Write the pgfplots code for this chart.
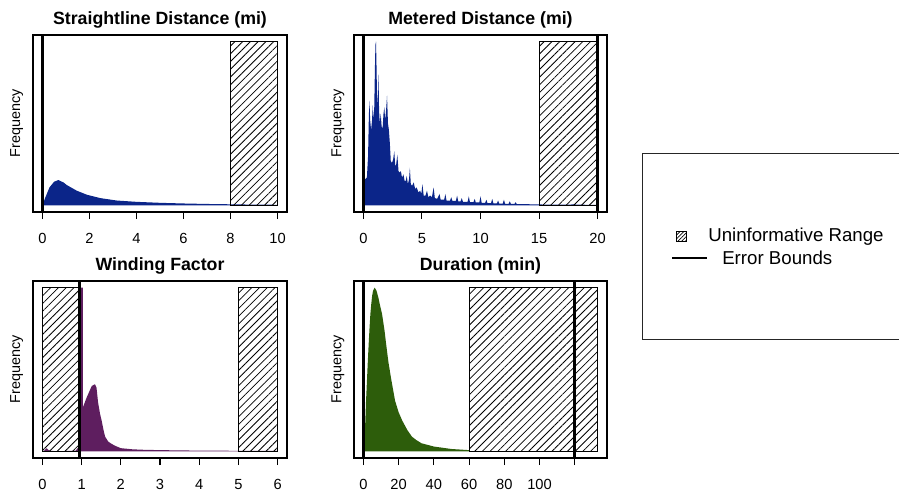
\documentclass[border=0pt]{standalone}
\usepackage{fontspec}
\setmainfont{Liberation Sans}
\usepackage{pgfplots}
\pgfplotsset{compat=1.18}
\usetikzlibrary{patterns.meta}

\definecolor{tripblue}{HTML}{0B2589}
\definecolor{trippurple}{HTML}{5E1E5F}
\definecolor{tripgreen}{HTML}{2D5D0B}

\tikzset{
  hatch/.style={draw=black, line width=0.6pt, pattern={Lines[angle=45,distance=4.1pt,line width=0.6pt]}, pattern color=black},
  bound/.style={black, line width=2pt},
}
% sizes below are pixels of the 899x493 picture times 0.75
\pgfplotsset{
  panel/.style={
    scale only axis, height=132.75pt,
    ymin=-0.04, ymax=1.04, ytick=\empty,
    axis line style={line width=0.8pt},
    xtick pos=bottom, tick align=outside, major tick length=5.25pt,
    every tick/.append style={black, line width=0.8pt},
    /pgf/number format/assume math mode=true,
    tick label style={font=\fontsize{11}{13}\selectfont},
    xticklabel style={anchor=base, yshift=-18.4pt},
    ylabel=Frequency,
    ylabel style={at={(axis description cs:-0.064,0.5)}, anchor=center, font=\fontsize{10.8}{12}\selectfont},
    every axis title shift=0pt,
    title style={at={(axis description cs:0.5,1.058)}, anchor=base, font=\bfseries\fontsize{13.3}{15}\selectfont},
    anchor=south west,
  },
}

\begin{document}
\begin{tikzpicture}
\useasboundingbox (0,0) rectangle (674.25pt,369.75pt);

% straightline distance
\begin{axis}[panel, width=190.5pt, at={(24.75pt,210.75pt)},
  xmin=-0.4, xmax=10.4, xtick={0,2,...,10},
  title={Straightline Distance (mi)}]
  \addplot[fill=tripblue, draw=none] coordinates {
    (0,0) (0.1,0.04) (0.3,0.11) (0.5,0.145) (0.68,0.155) (0.9,0.14) (1.03,0.125)
    (1.46,0.09) (1.9,0.065) (2.45,0.045) (3.16,0.03) (4,0.022) (5,0.016)
    (6,0.012) (7,0.009) (8,0.007) (9,0.005) (10,0.004)
  } \closedcycle;
  \addplot[hatch] coordinates {(8,0) (10,0) (10,1) (8,1)} -- cycle;
  \addplot[bound] coordinates {(0,-0.04) (0,1.04)};
\end{axis}

% metered distance
\begin{axis}[panel, width=189.75pt, at={(265.5pt,210.75pt)},
  xmin=-0.8, xmax=20.8, xtick={0,5,...,20},
  title={Metered Distance (mi)}]
  \addplot[fill=tripblue, draw=none] coordinates {
    (0,0) (0.01,0.15) (0.15,0.16) (0.3,0.17) (0.4,0.3) (0.47,0.55) (0.52,0.64)
    (0.58,0.52) (0.66,0.46) (0.74,0.52) (0.8,0.61) (0.87,0.52) (0.93,0.6)
    (0.99,0.85) (1.03,0.98) (1.08,1.0) (1.13,0.82) (1.18,0.6) (1.23,0.66)
    (1.29,0.8) (1.34,0.58) (1.4,0.5) (1.48,0.56) (1.56,0.48) (1.64,0.47)
    (1.72,0.56) (1.79,0.6) (1.86,0.52) (1.94,0.58) (2.02,0.67) (2.1,0.5)
    (2.18,0.46) (2.26,0.38) (2.34,0.27) (2.44,0.26) (2.54,0.28) (2.64,0.33)
    (2.72,0.24) (2.8,0.25) (2.9,0.31) (3.0,0.21) (3.1,0.2) (3.2,0.21)
    (3.3,0.17) (3.42,0.19) (3.52,0.15) (3.62,0.15) (3.7,0.18) (3.8,0.13)
    (3.9,0.16) (3.97,0.23) (4.05,0.13) (4.15,0.12) (4.3,0.14) (4.42,0.10)
    (4.55,0.11) (4.7,0.08) (4.85,0.09) (4.95,0.07) (5.04,0.13) (5.15,0.06)
    (5.3,0.06) (5.43,0.09) (5.55,0.05) (5.7,0.06) (5.85,0.05) (6.0,0.11)
    (6.1,0.045) (6.3,0.04) (6.5,0.07) (6.6,0.035) (6.9,0.035) (7.0,0.07)
    (7.1,0.03) (7.4,0.03) (7.5,0.05) (7.6,0.028) (7.9,0.028) (8.0,0.06)
    (8.1,0.025) (8.3,0.025) (8.4,0.045) (8.5,0.022) (8.9,0.022) (9.0,0.055)
    (9.1,0.02) (9.4,0.02) (9.5,0.04) (9.6,0.018) (9.9,0.018) (10.0,0.055)
    (10.1,0.016) (10.4,0.016) (10.5,0.035) (10.6,0.014) (10.9,0.014) (11.0,0.04)
    (11.1,0.012) (11.4,0.012) (11.5,0.03) (11.6,0.011) (11.9,0.011) (12.0,0.035)
    (12.1,0.01) (12.4,0.01) (12.5,0.025) (12.6,0.009) (12.9,0.009) (13,0.02)
    (13.1,0.008) (14,0.008) (14.5,0.006) (15,0.006) (16,0.005) (17,0.005)
    (18,0.006) (19,0.004) (20,0.003)
  } \closedcycle;
  \addplot[hatch] coordinates {(15,0) (20,0) (20,1) (15,1)} -- cycle;
  \addplot[bound] coordinates {(0,-0.04) (0,1.04)};
  \addplot[bound] coordinates {(20,-0.04) (20,1.04)};
\end{axis}

% winding factor
\begin{axis}[panel, width=190.5pt, at={(24.75pt,26.25pt)},
  xmin=-0.24, xmax=6.24, xtick={0,1,...,6},
  title={Winding Factor}]
  \addplot[fill=trippurple, draw=none] coordinates {
    (0,0) (0.05,0.005) (0.1,0.02) (0.15,0.01) (0.2,0.003) (0.5,0.002)
    (0.85,0.005) (0.93,0.03) (0.975,0.1) (0.98,1.0) (1.03,1.0) (1.035,0.27)
    (1.13,0.33) (1.26,0.40) (1.34,0.41) (1.38,0.39) (1.42,0.3) (1.47,0.23)
    (1.51,0.19) (1.56,0.13) (1.6,0.09) (1.68,0.06) (1.76,0.047) (1.85,0.035)
    (2.0,0.02) (2.3,0.013) (2.6,0.01) (3,0.008) (4,0.005) (5,0.004) (6,0.003)
  } \closedcycle;
  \addplot[hatch] coordinates {(0,0) (0.95,0) (0.95,1) (0,1)} -- cycle;
  \addplot[hatch] coordinates {(5,0) (6,0) (6,1) (5,1)} -- cycle;
  \addplot[bound] coordinates {(0.95,-0.04) (0.95,1.04)};
\end{axis}

% duration
\begin{axis}[panel, width=189.75pt, at={(265.5pt,26.25pt)},
  xmin=-5.3, xmax=138.3, xtick={0,20,...,120},
  xticklabels={0,20,40,60,80,100,{}},
  title={Duration (min)}]
  \addplot[fill=tripgreen, draw=none] coordinates {
    (0,0) (1,0.15) (1.5,0.3) (2,0.42) (2.5,0.54) (3,0.65) (3.5,0.75) (4,0.84)
    (4.5,0.9) (5,0.95) (5.5,0.98) (6.4,1.0) (7.5,0.98) (8.5,0.94) (9.5,0.89)
    (10.6,0.84) (12,0.74) (13,0.65) (14.3,0.54) (16,0.43) (18,0.31) (20,0.24)
    (22,0.19) (25,0.13) (27.6,0.09) (30,0.07) (33,0.05) (40,0.03) (50,0.015)
    (60,0.008)
  } \closedcycle;
  \addplot[hatch] coordinates {(60,0) (133,0) (133,1) (60,1)} -- cycle;
  \addplot[bound] coordinates {(0,-0.04) (0,1.04)};
  \addplot[bound] coordinates {(120,-0.04) (120,1.04)};
\end{axis}

% legend
\draw[line width=0.6pt, black!85] (481.5pt,115.5pt) rectangle (690pt,255pt);
\draw[draw=black, line width=0.6pt, pattern={Lines[angle=45,distance=2pt,line width=0.5pt]}] (507pt,188.6pt) rectangle (514.5pt,196.1pt);
\node[anchor=base west, inner sep=0, font=\fontsize{14}{16}\selectfont] at (531pt,188.5pt) {Uninformative Range};
\draw[line width=1.6pt] (504pt,176pt) -- (530.25pt,176pt);
\node[anchor=base west, inner sep=0, font=\fontsize{14}{16}\selectfont] at (541.5pt,171.5pt) {Error Bounds};
\end{tikzpicture}
\end{document}
